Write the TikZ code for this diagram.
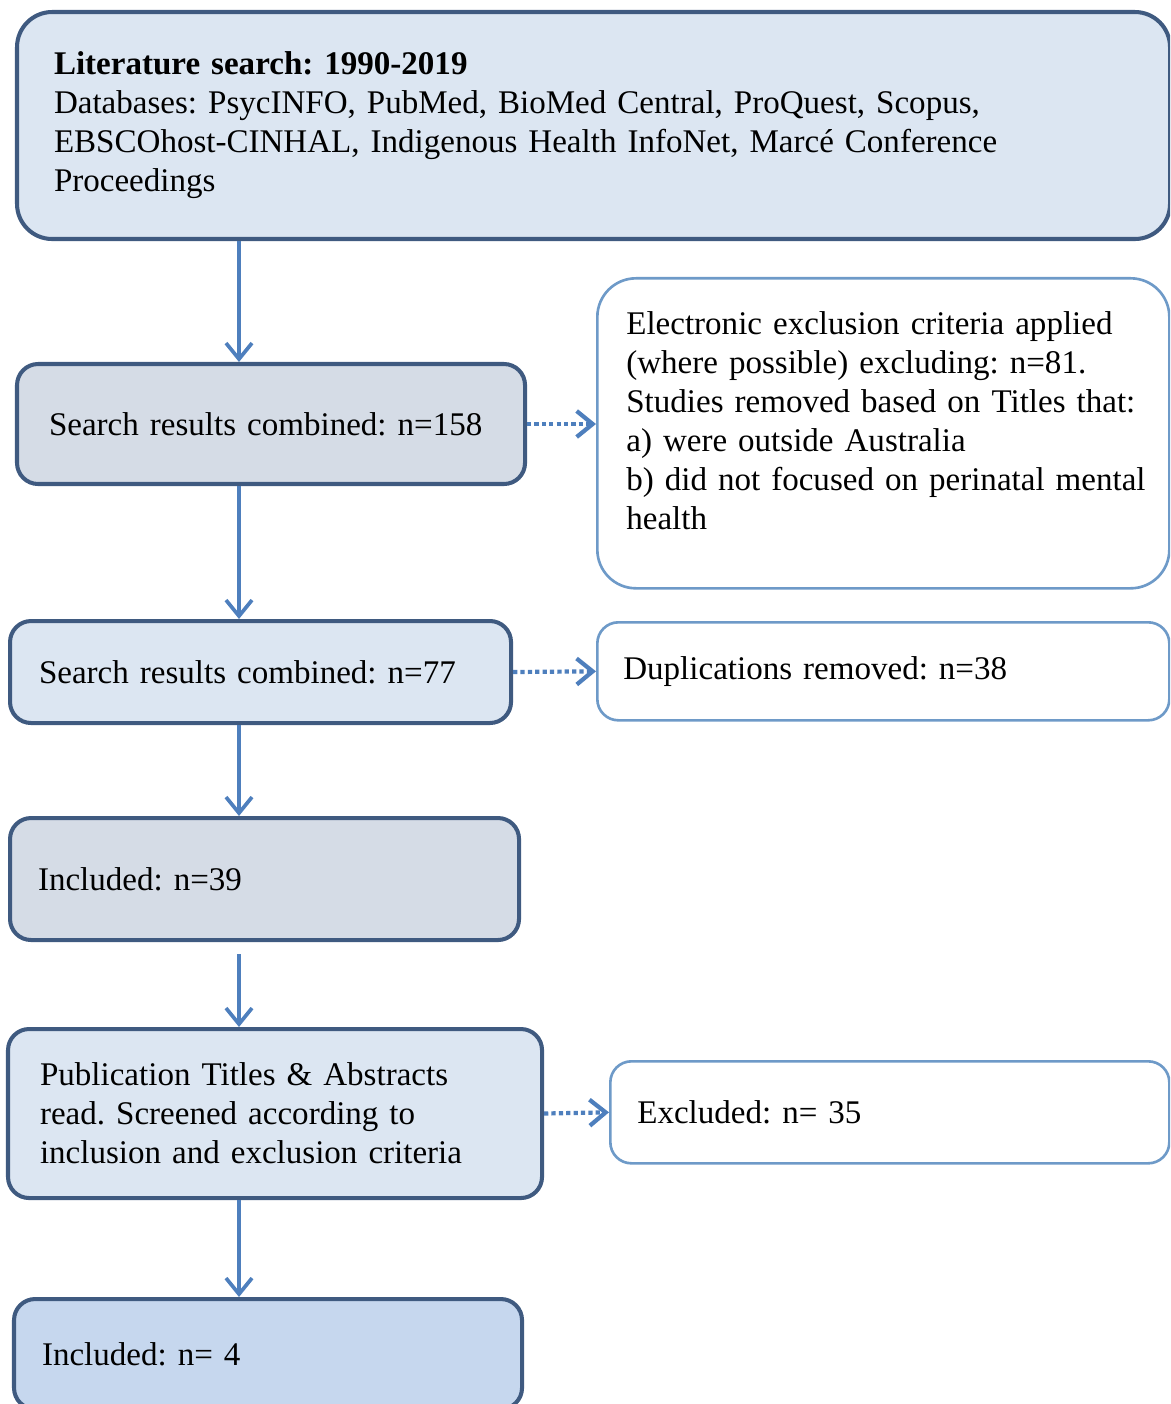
\documentclass[tikz,border=0pt]{standalone}
\usepackage{fontspec}
\setmainfont{Liberation Serif}
\definecolor{Frame}{HTML}{3F5A80}
\definecolor{SideLine}{HTML}{6E9AC8}
\definecolor{Flow}{HTML}{4E7FBD}
\definecolor{PaleBlue}{HTML}{DCE6F2}
\definecolor{GreyBlue}{HTML}{D5DCE6}
\definecolor{MidBlue}{HTML}{C6D7EE}
\usetikzlibrary{arrows.meta,positioning}

\begin{document}
\frenchspacing
\begin{tikzpicture}[
    stage/.style={
      draw=Frame, line width=1.15pt, rounded corners=6pt,
      align=left, font=\fontsize{9.4}{11.1}\selectfont,
      inner xsep=0.3cm, inner ysep=0pt, anchor=north west, fill=PaleBlue
    },
    side/.style={stage, draw=SideLine, line width=0.75pt, fill=white},
    flow/.style={-{Straight Barb[width=2.6mm,length=1.6mm]}, Flow, line width=1.05pt},
    skip/.style={flow, line width=1.2pt, dash pattern=on 1.2pt off 0.9pt}
  ]
    \useasboundingbox (0,0) rectangle (11.7,-14.04);
    \clip (0,0) rectangle (11.7,-14.04);
    \coordinate (spine) at (2.39,0);

    \node[stage, rounded corners=10pt, inner xsep=0.37cm, text width=10.79cm, minimum height=2.27cm] (search) at (0.15,-0.10)
      {\textbf{Literature search: 1990-2019}\\
       Databases: PsycINFO, PubMed, BioMed Central, ProQuest, Scopus,\\
       EBSCOhost-CINHAL, Indigenous Health InfoNet, Marcé Conference\\
       Proceedings};
    \node[stage, fill=GreyBlue, inner xsep=0.32cm, text width=4.44cm, minimum height=1.20cm] (comb1) at (0.15,-3.62)
      {Search results combined: n=158};
    \node[side, rounded corners=11pt, inner xsep=0.29cm, text width=5.14cm, minimum height=3.10cm] (elec) at (5.96,-2.77)
      {\mbox{Electronic exclusion criteria applied}\\
       (where possible) excluding: n=81.\\
       \mbox{Studies removed based on Titles that:}\\
       a) were outside Australia\\
       \mbox{b) did not focused on perinatal mental}\\
       health\par\kern0.26cm};
    \node[stage, inner xsep=0.29cm, text width=4.43cm, minimum height=1.02cm] (comb2) at (0.08,-6.19)
      {Search results combined: n=77};
    \node[side, inner xsep=0.26cm, text width=5.20cm, minimum height=0.98cm] (dupl) at (5.96,-6.21)
      {Duplications removed: n=38};
    \node[stage, fill=GreyBlue, inner xsep=0.28cm, text width=4.53cm, minimum height=1.22cm] (incl1) at (0.08,-8.16)
      {Included: n=39};
    \node[stage, inner xsep=0.32cm, text width=4.70cm, minimum height=1.69cm] (screen) at (0.06,-10.27)
      {Publication Titles \& Abstracts\\
       read. Screened according to\\
       inclusion and exclusion criteria};
    \node[side, inner xsep=0.27cm, text width=5.05cm, minimum height=1.02cm] (excl) at (6.09,-10.60)
      {Excluded: n= 35};
    \node[stage, fill=MidBlue, inner xsep=0.28cm, text width=4.52cm, minimum height=1.10cm] (incl2) at (0.12,-12.97)
      {Included: n= 4};

    \draw[flow] (search.south -| spine) -- (comb1.north -| spine);
    \draw[flow] (comb1.south -| spine) -- (comb2.north -| spine);
    \draw[flow] (comb2.south -| spine) -- (incl1.north -| spine);
    \draw[flow, shorten <=0.12cm] (incl1.south -| spine) -- (screen.north -| spine);
    \draw[flow] (screen.south -| spine) -- (incl2.north -| spine);
    \draw[skip] (comb1.east) -- (comb1.east -| elec.west);
    \draw[skip] (comb2.east) -- (dupl.west);
    \draw[skip] (screen.east) -- (excl.west);
  \end{tikzpicture}
\end{document}
